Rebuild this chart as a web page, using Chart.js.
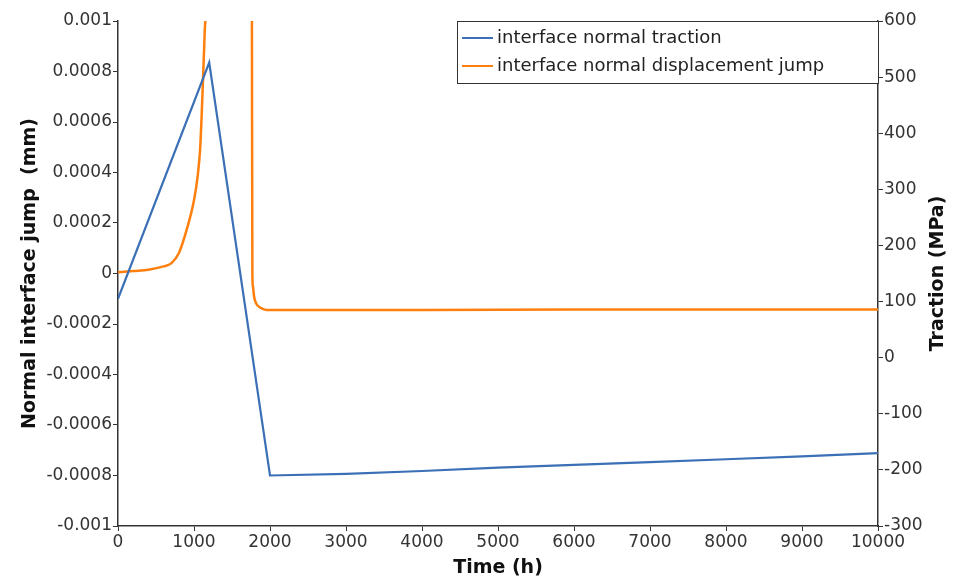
<!DOCTYPE html>
<html>
<head>
<meta charset="utf-8">
<script src="https://cdn.jsdelivr.net/npm/chart.js@4"></script>
<style>
  html, body { margin: 0; padding: 0; background: #fff; }
  #wrap { width: 953px; height: 579px; position: relative; }
</style>
</head>
<body>
<div id="wrap"><canvas id="chart"></canvas></div>
<script>
// traction series (right axis, MPa)
const tractionTime = [0, 1200, 2000, 3000, 4000, 5000, 6000, 7000, 8000, 9000, 10000];
const tractionValue = [105, 526, -210, -207, -202, -196, -191, -186, -181, -176, -170];

// displacement jump series (left axis, mm)
const jumpTime = [0, 200, 400, 600, 700, 800, 900, 1000, 1050, 1080, 1100, 1120, 1140, 1160, 1200,
  1750, 1762, 1768, 1775, 1790, 1820, 1870, 1930, 2000, 4000, 6000, 8000, 10000];
const jumpValue = [0.000005, 0.00001, 0.000015, 0.000028, 0.00004, 0.00008, 0.00017, 0.00029, 0.00039, 0.00049, 0.00062, 0.00078, 0.00095, 0.00115, 0.003,
  0.003, 0.001, 0.0000, -0.00005, -0.00009, -0.00012, -0.000135, -0.000143, -0.000145, -0.000145, -0.000143, -0.000143, -0.000143];

const seriesLabels = ['interface normal traction', 'interface normal displacement jump'];
const seriesColors = ['#3b6fb6', '#ff7f0e'];
const rightTitle = 'Traction (MPa)';

const FONT = '"DejaVu Sans", sans-serif';

// legend box inside the plot (top right) and the right axis title read bottom-to-top
const extras = {
  id: 'extras',
  afterDraw(chart) {
    const ctx = chart.ctx;
    const area = chart.chartArea;
    const x0 = 457, y0 = 21, w = area.right - x0, h = 62;
    ctx.save();
    ctx.fillStyle = '#fff';
    ctx.fillRect(x0, y0, w, h);
    ctx.strokeStyle = '#333';
    ctx.lineWidth = 1;
    ctx.strokeRect(x0 + 0.5, y0 + 0.5, w, h);
    ctx.font = '18px ' + FONT;
    ctx.textBaseline = 'middle';
    chart.data.datasets.forEach((ds, i) => {
      const yy = y0 + 17 + i * 28;
      ctx.strokeStyle = ds.borderColor;
      ctx.lineWidth = 2;
      ctx.beginPath();
      ctx.moveTo(x0 + 5, yy);
      ctx.lineTo(x0 + 36, yy);
      ctx.stroke();
      ctx.fillStyle = '#222';
      ctx.fillText(ds.label, x0 + 40, yy);
    });

    // right title
    ctx.translate(938, (area.top + area.bottom) / 2);
    ctx.rotate(-Math.PI / 2);
    ctx.font = 'bold 19px ' + FONT;
    ctx.textAlign = 'center';
    ctx.fillStyle = '#111';
    ctx.fillText(rightTitle, 0, 0);
    ctx.restore();
  }
};

const toPoints = (xs, ys) => xs.map((x, i) => ({ x: x, y: ys[i] }));

const axisBase = {
  grid: { display: true, drawOnChartArea: false, drawTicks: true, tickLength: 5, color: '#333' },
  border: { display: true, color: '#333', width: 1.5 },
  ticks: { color: '#333', font: { family: FONT, size: 17 }, padding: 1 }
};
const titleFont = { family: FONT, size: 19, weight: 'bold' };

new Chart(document.getElementById('chart'), {
  type: 'line',
  data: {
    datasets: [{
      label: seriesLabels[0],
      data: toPoints(tractionTime, tractionValue),
      borderColor: seriesColors[0],
      borderWidth: 2.2,
      pointRadius: 0,
      tension: 0,
      yAxisID: 'y1'
    }, {
      label: seriesLabels[1],
      data: toPoints(jumpTime, jumpValue),
      borderColor: seriesColors[1],
      borderWidth: 2.5,
      pointRadius: 0,
      cubicInterpolationMode: 'monotone',
      yAxisID: 'y'
    }]
  },
  options: {
    responsive: true,
    maintainAspectRatio: false,
    animation: false,
    layout: { padding: { top: 21, right: 0, left: 0, bottom: 0 } },
    plugins: {
      legend: { display: false },
      tooltip: { enabled: false }
    },
    scales: {
      x: {
        type: 'linear',
        min: 0, max: 10000,
        ...axisBase,
        ticks: { ...axisBase.ticks, stepSize: 1000, maxRotation: 0, autoSkip: false, callback: v => String(v) },
        title: { display: true, text: 'Time (h)', color: '#111', font: titleFont, padding: 0 },
        afterFit: s => { s.height = 53; }
      },
      y: {
        position: 'left',
        min: -0.001, max: 0.001,
        ...axisBase,
        ticks: { ...axisBase.ticks, stepSize: 0.0002, callback: v => String(Number(v.toFixed(4))) },
        title: { display: true, text: 'Normal interface jump  (mm)', color: '#111', font: titleFont, padding: { top: 19, bottom: 0 } },
        afterFit: s => { s.width = 118; }
      },
      y1: {
        position: 'right',
        min: -300, max: 600,
        ...axisBase,
        ticks: { ...axisBase.ticks, stepSize: 100 },
        title: { display: false },
        afterFit: s => { s.width = 75; }
      }
    }
  },
  plugins: [extras]
});
</script>
</body>
</html>
